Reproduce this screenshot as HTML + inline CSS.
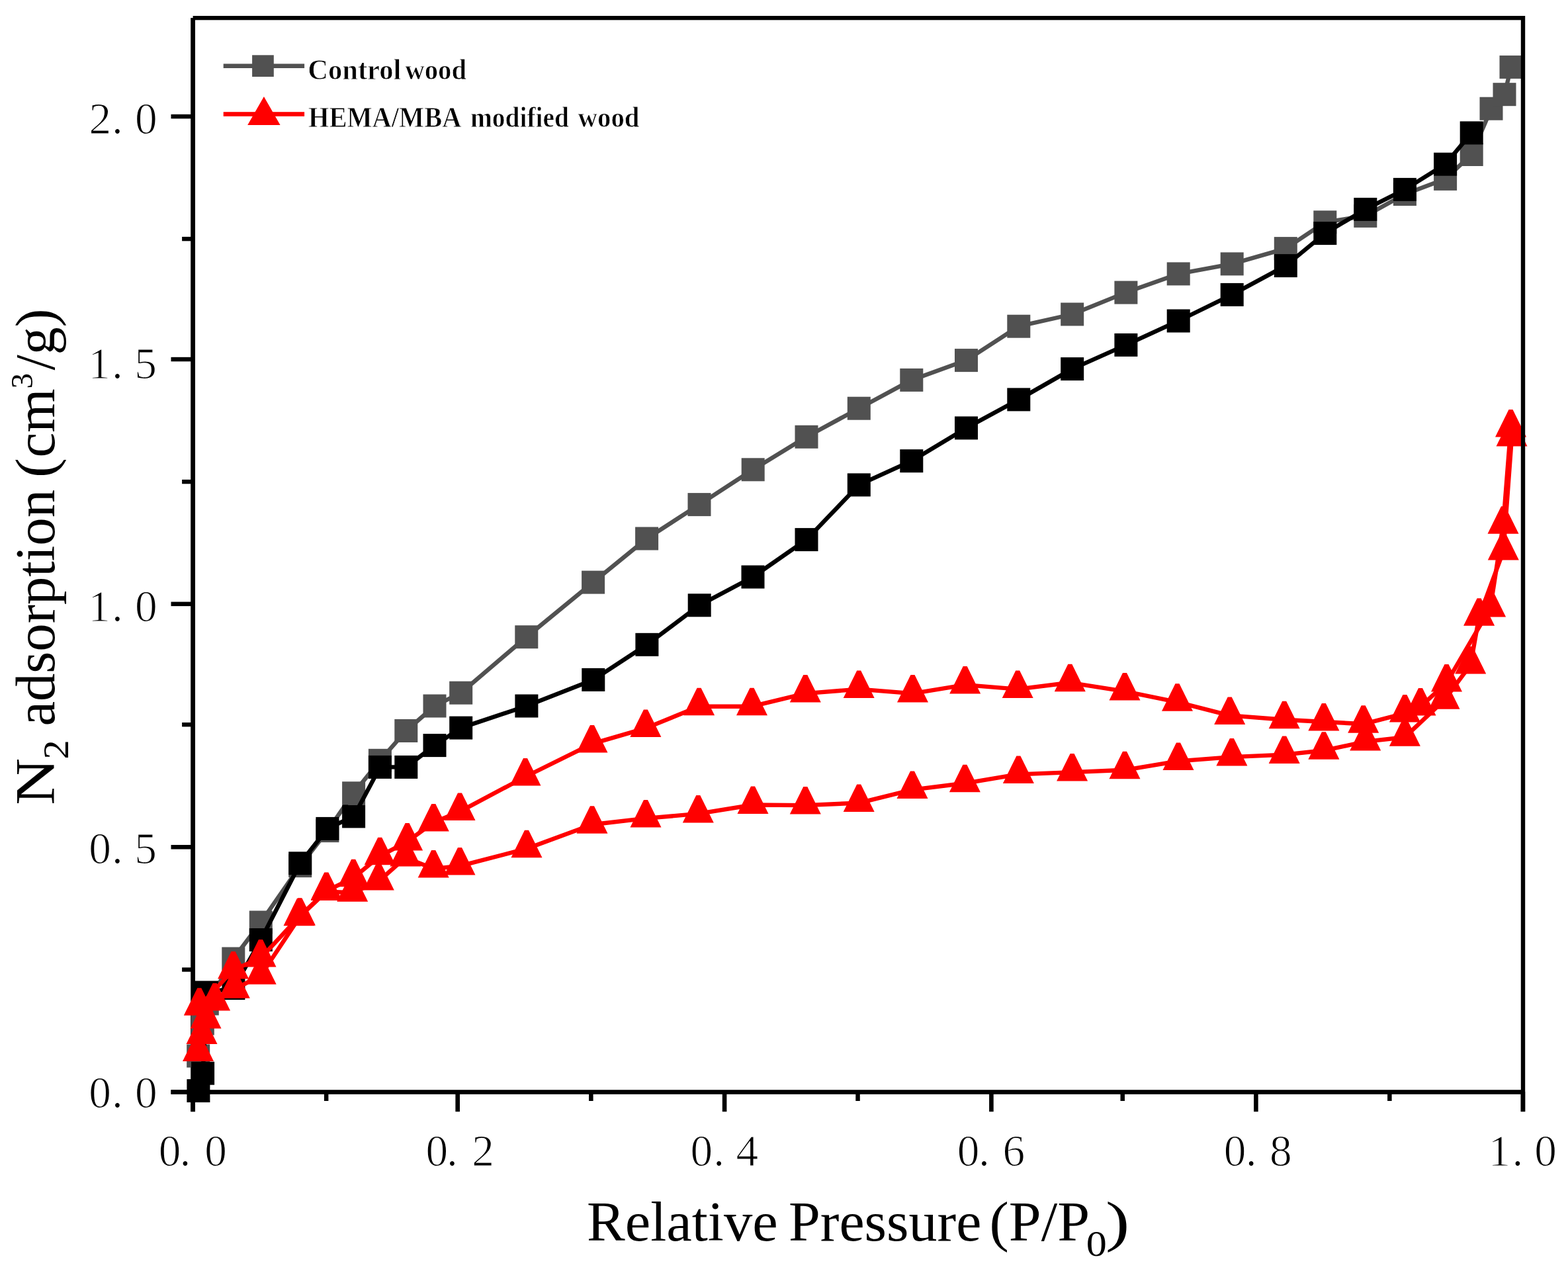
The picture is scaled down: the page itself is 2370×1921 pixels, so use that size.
<!DOCTYPE html>
<html><head><meta charset="utf-8"><title>N2 adsorption isotherms</title>
<style>html,body{margin:0;padding:0;background:#fff;width:2370px;height:1921px;overflow:hidden}svg{display:block}</style>
</head><body>
<svg width="2370" height="1921" viewBox="0 0 2370 1921">
<rect x="0" y="0" width="2370" height="1921" fill="#fff"/>
<rect x="288.2" y="27.1" width="6.8" height="1653" fill="#000"/>
<rect x="258.5" y="1647.2" width="2046.5" height="6.7" fill="#000"/>
<rect x="288.3" y="1650" width="6.6" height="30.2" fill="#000"/>
<rect x="688.4" y="1650" width="6.6" height="30.2" fill="#000"/>
<rect x="1091.8" y="1650" width="6.6" height="30.2" fill="#000"/>
<rect x="1495.1" y="1650" width="6.6" height="30.2" fill="#000"/>
<rect x="1895.1" y="1650" width="6.6" height="30.2" fill="#000"/>
<rect x="2298.6" y="1650" width="6.6" height="30.2" fill="#000"/>
<rect x="489.9" y="1650" width="6.5" height="14" fill="#000"/>
<rect x="890.1" y="1650" width="6.5" height="14" fill="#000"/>
<rect x="1293.3" y="1650" width="6.5" height="14" fill="#000"/>
<rect x="1693.5" y="1650" width="6.5" height="14" fill="#000"/>
<rect x="2097.1" y="1650" width="6.5" height="14" fill="#000"/>
<rect x="258.5" y="1647.2" width="33" height="6.5" fill="#000"/>
<rect x="258.5" y="1277" width="33" height="6.5" fill="#000"/>
<rect x="258.5" y="909.6" width="33" height="6.5" fill="#000"/>
<rect x="258.5" y="539.8" width="33" height="6.5" fill="#000"/>
<rect x="258.5" y="172.8" width="33" height="6.5" fill="#000"/>
<rect x="275.1" y="1462.3" width="16" height="6.4" fill="#000"/>
<rect x="275.1" y="1092" width="16" height="6.4" fill="#000"/>
<rect x="275.1" y="724.9" width="16" height="6.4" fill="#000"/>
<rect x="275.1" y="357.9" width="16" height="6.4" fill="#000"/>
<g>
<polyline fill="none" stroke="#515151" stroke-width="6.4" stroke-linejoin="round" points="299.7,1596 306.3,1547 313.3,1517 352.8,1449 394.3,1394 453.7,1308.6 494.9,1255.6 534.6,1198.8 574.4,1149.3 613.8,1104.5 657,1067 696.7,1047.2 795.8,962.7 896.6,880.1 977.6,814 1057,762.6 1138.2,709.8 1219,660.3 1298.3,617.2 1377.8,574.4 1460.5,544.6 1539.8,493.2 1620.7,475 1701.9,442.1 1781.2,413.9 1862.2,398.9 1943.3,375.6 2002.8,335.8 2063.8,326.4 2123.4,293.5 2184.6,270.4 2224.2,233.5 2254,164.2 2274,142.7 2284,101.4"/>
<rect x="282.2" y="1578.5" width="35" height="35" fill="#515151"/>
<rect x="288.8" y="1529.5" width="35" height="35" fill="#515151"/>
<rect x="295.8" y="1499.5" width="35" height="35" fill="#515151"/>
<rect x="335.3" y="1431.5" width="35" height="35" fill="#515151"/>
<rect x="376.8" y="1376.5" width="35" height="35" fill="#515151"/>
<rect x="436.2" y="1291.1" width="35" height="35" fill="#515151"/>
<rect x="477.4" y="1238.1" width="35" height="35" fill="#515151"/>
<rect x="517.1" y="1181.3" width="35" height="35" fill="#515151"/>
<rect x="556.9" y="1131.8" width="35" height="35" fill="#515151"/>
<rect x="596.3" y="1087" width="35" height="35" fill="#515151"/>
<rect x="639.5" y="1049.5" width="35" height="35" fill="#515151"/>
<rect x="679.2" y="1029.7" width="35" height="35" fill="#515151"/>
<rect x="778.3" y="945.2" width="35" height="35" fill="#515151"/>
<rect x="879.1" y="862.6" width="35" height="35" fill="#515151"/>
<rect x="960.1" y="796.5" width="35" height="35" fill="#515151"/>
<rect x="1039.5" y="745.1" width="35" height="35" fill="#515151"/>
<rect x="1120.7" y="692.3" width="35" height="35" fill="#515151"/>
<rect x="1201.5" y="642.8" width="35" height="35" fill="#515151"/>
<rect x="1280.8" y="599.7" width="35" height="35" fill="#515151"/>
<rect x="1360.3" y="556.9" width="35" height="35" fill="#515151"/>
<rect x="1443" y="527.1" width="35" height="35" fill="#515151"/>
<rect x="1522.3" y="475.7" width="35" height="35" fill="#515151"/>
<rect x="1603.2" y="457.5" width="35" height="35" fill="#515151"/>
<rect x="1684.4" y="424.6" width="35" height="35" fill="#515151"/>
<rect x="1763.7" y="396.4" width="35" height="35" fill="#515151"/>
<rect x="1844.7" y="381.4" width="35" height="35" fill="#515151"/>
<rect x="1925.8" y="358.1" width="35" height="35" fill="#515151"/>
<rect x="1985.3" y="318.3" width="35" height="35" fill="#515151"/>
<rect x="2046.3" y="308.9" width="35" height="35" fill="#515151"/>
<rect x="2105.9" y="276" width="35" height="35" fill="#515151"/>
<rect x="2167.1" y="252.9" width="35" height="35" fill="#515151"/>
<rect x="2206.7" y="216" width="35" height="35" fill="#515151"/>
<rect x="2236.5" y="146.7" width="35" height="35" fill="#515151"/>
<rect x="2256.5" y="125.2" width="35" height="35" fill="#515151"/>
<rect x="2266.5" y="83.9" width="35" height="35" fill="#515151"/>
<polyline fill="none" stroke="#000000" stroke-width="6.4" stroke-linejoin="round" points="299.9,1648.6 306.6,1622.2 312.5,1500 352.9,1493.6 394.3,1420.5 453.7,1304.8 494.9,1252.4 534.6,1233.9 574.4,1159.4 613.8,1159.4 657,1126.6 696.7,1100.1 795.9,1067 896.8,1027.4 977.9,974.3 1057.2,914.8 1138,872 1219,815.6 1298.3,732.9 1377.8,696.7 1460.5,646.9 1539.8,603.9 1620.7,557.6 1701.9,521.4 1781.2,485 1862.2,445.4 1943.3,401.6 2002.8,352.6 2063.8,316.4 2123.4,286.4 2184.6,248.2 2224.2,200.9"/>
<rect x="282.4" y="1631.1" width="35" height="35" fill="#000000"/>
<rect x="289.1" y="1604.7" width="35" height="35" fill="#000000"/>
<rect x="295" y="1482.5" width="35" height="35" fill="#000000"/>
<rect x="335.4" y="1476.1" width="35" height="35" fill="#000000"/>
<rect x="376.8" y="1403" width="35" height="35" fill="#000000"/>
<rect x="436.2" y="1287.3" width="35" height="35" fill="#000000"/>
<rect x="477.4" y="1234.9" width="35" height="35" fill="#000000"/>
<rect x="517.1" y="1216.4" width="35" height="35" fill="#000000"/>
<rect x="556.9" y="1141.9" width="35" height="35" fill="#000000"/>
<rect x="596.3" y="1141.9" width="35" height="35" fill="#000000"/>
<rect x="639.5" y="1109.1" width="35" height="35" fill="#000000"/>
<rect x="679.2" y="1082.6" width="35" height="35" fill="#000000"/>
<rect x="778.4" y="1049.5" width="35" height="35" fill="#000000"/>
<rect x="879.3" y="1009.9" width="35" height="35" fill="#000000"/>
<rect x="960.4" y="956.8" width="35" height="35" fill="#000000"/>
<rect x="1039.7" y="897.3" width="35" height="35" fill="#000000"/>
<rect x="1120.5" y="854.5" width="35" height="35" fill="#000000"/>
<rect x="1201.5" y="798.1" width="35" height="35" fill="#000000"/>
<rect x="1280.8" y="715.4" width="35" height="35" fill="#000000"/>
<rect x="1360.3" y="679.2" width="35" height="35" fill="#000000"/>
<rect x="1443" y="629.4" width="35" height="35" fill="#000000"/>
<rect x="1522.3" y="586.4" width="35" height="35" fill="#000000"/>
<rect x="1603.2" y="540.1" width="35" height="35" fill="#000000"/>
<rect x="1684.4" y="503.9" width="35" height="35" fill="#000000"/>
<rect x="1763.7" y="467.5" width="35" height="35" fill="#000000"/>
<rect x="1844.7" y="427.9" width="35" height="35" fill="#000000"/>
<rect x="1925.8" y="384.1" width="35" height="35" fill="#000000"/>
<rect x="1985.3" y="335.1" width="35" height="35" fill="#000000"/>
<rect x="2046.3" y="298.9" width="35" height="35" fill="#000000"/>
<rect x="2105.9" y="268.9" width="35" height="35" fill="#000000"/>
<rect x="2167.1" y="230.7" width="35" height="35" fill="#000000"/>
<rect x="2206.7" y="183.4" width="35" height="35" fill="#000000"/>
<polyline fill="none" stroke="#ff0000" stroke-width="6.4" stroke-linejoin="round" points="299.5,1590.5 305,1564.5 311,1541.1 324.6,1514.1 354.3,1495.3 394.2,1474.2 453.4,1385.3 493.3,1347.5 532.7,1349.2 572.3,1332 612.8,1296.1 655.2,1313 695,1308.9 796,1282.7 895,1246.3 976,1236.9 1055.3,1229.9 1138,1216.5 1217.3,1217.1 1298.2,1213.6 1379,1193.6 1458.4,1183.8 1539.4,1170.4 1620.6,1167.1 1700,1163.8 1781,1150.4 1861.9,1144.1 1941.2,1140.6 2000.9,1134.3 2063.7,1120.9 2123.4,1114.2 2183,1058.2 2222.7,1004.9 2235.6,932.3 2272.3,833.1 2285,661.1"/>
<polygon fill="#ff0000" points="296.5,1562.5 302.5,1562.5 323,1604 276,1604"/>
<polygon fill="#ff0000" points="302,1536.5 308,1536.5 328.5,1578 281.5,1578"/>
<polygon fill="#ff0000" points="308,1513.1 314,1513.1 334.5,1554.6 287.5,1554.6"/>
<polygon fill="#ff0000" points="321.6,1486.1 327.6,1486.1 348.1,1527.6 301.1,1527.6"/>
<polygon fill="#ff0000" points="351.3,1467.3 357.3,1467.3 377.8,1508.8 330.8,1508.8"/>
<polygon fill="#ff0000" points="391.2,1446.2 397.2,1446.2 417.7,1487.7 370.7,1487.7"/>
<polygon fill="#ff0000" points="450.4,1357.3 456.4,1357.3 476.9,1398.8 429.9,1398.8"/>
<polygon fill="#ff0000" points="490.3,1319.5 496.3,1319.5 516.8,1361 469.8,1361"/>
<polygon fill="#ff0000" points="529.7,1321.2 535.7,1321.2 556.2,1362.7 509.2,1362.7"/>
<polygon fill="#ff0000" points="569.3,1304 575.3,1304 595.8,1345.5 548.8,1345.5"/>
<polygon fill="#ff0000" points="609.8,1268.1 615.8,1268.1 636.3,1309.6 589.3,1309.6"/>
<polygon fill="#ff0000" points="652.2,1285 658.2,1285 678.7,1326.5 631.7,1326.5"/>
<polygon fill="#ff0000" points="692,1280.9 698,1280.9 718.5,1322.4 671.5,1322.4"/>
<polygon fill="#ff0000" points="793,1254.7 799,1254.7 819.5,1296.2 772.5,1296.2"/>
<polygon fill="#ff0000" points="892,1218.3 898,1218.3 918.5,1259.8 871.5,1259.8"/>
<polygon fill="#ff0000" points="973,1208.9 979,1208.9 999.5,1250.4 952.5,1250.4"/>
<polygon fill="#ff0000" points="1052.3,1201.9 1058.3,1201.9 1078.8,1243.4 1031.8,1243.4"/>
<polygon fill="#ff0000" points="1135,1188.5 1141,1188.5 1161.5,1230 1114.5,1230"/>
<polygon fill="#ff0000" points="1214.3,1189.1 1220.3,1189.1 1240.8,1230.6 1193.8,1230.6"/>
<polygon fill="#ff0000" points="1295.2,1185.6 1301.2,1185.6 1321.7,1227.1 1274.7,1227.1"/>
<polygon fill="#ff0000" points="1376,1165.6 1382,1165.6 1402.5,1207.1 1355.5,1207.1"/>
<polygon fill="#ff0000" points="1455.4,1155.8 1461.4,1155.8 1481.9,1197.3 1434.9,1197.3"/>
<polygon fill="#ff0000" points="1536.4,1142.4 1542.4,1142.4 1562.9,1183.9 1515.9,1183.9"/>
<polygon fill="#ff0000" points="1617.6,1139.1 1623.6,1139.1 1644.1,1180.6 1597.1,1180.6"/>
<polygon fill="#ff0000" points="1697,1135.8 1703,1135.8 1723.5,1177.3 1676.5,1177.3"/>
<polygon fill="#ff0000" points="1778,1122.4 1784,1122.4 1804.5,1163.9 1757.5,1163.9"/>
<polygon fill="#ff0000" points="1858.9,1116.1 1864.9,1116.1 1885.4,1157.6 1838.4,1157.6"/>
<polygon fill="#ff0000" points="1938.2,1112.6 1944.2,1112.6 1964.7,1154.1 1917.7,1154.1"/>
<polygon fill="#ff0000" points="1997.9,1106.3 2003.9,1106.3 2024.4,1147.8 1977.4,1147.8"/>
<polygon fill="#ff0000" points="2060.7,1092.9 2066.7,1092.9 2087.2,1134.4 2040.2,1134.4"/>
<polygon fill="#ff0000" points="2120.4,1086.2 2126.4,1086.2 2146.9,1127.7 2099.9,1127.7"/>
<polygon fill="#ff0000" points="2180,1030.2 2186,1030.2 2206.5,1071.7 2159.5,1071.7"/>
<polygon fill="#ff0000" points="2219.7,976.9 2225.7,976.9 2246.2,1018.4 2199.2,1018.4"/>
<polygon fill="#ff0000" points="2232.6,904.3 2238.6,904.3 2259.1,945.8 2212.1,945.8"/>
<polygon fill="#ff0000" points="2269.3,805.1 2275.3,805.1 2295.8,846.6 2248.8,846.6"/>
<polygon fill="#ff0000" points="2282,633.1 2288,633.1 2308.5,674.6 2261.5,674.6"/>
<polyline fill="none" stroke="#ff0000" stroke-width="6.4" stroke-linejoin="round" points="2283.5,647 2272,793.3 2252.6,918.9 2186.5,1031.9 2147,1068.1 2123.4,1078.1 2060.7,1094.3 2000.9,1091 1941.2,1087.7 1858.7,1081.4 1779.5,1061.2 1700,1044.9 1617.3,1031.8 1538.2,1041.6 1458.7,1035.1 1379.5,1048.1 1298.2,1041.6 1217.3,1048.1 1136.5,1067.7 1056.6,1067.7 975.9,1100.6 895,1124.1 794,1174 695,1226.6 655.3,1242.9 615.6,1272.1 574.2,1293.8 534.2,1326.7 493.3,1346.6 452,1385.7 394,1448.1 352.6,1465.9 301.3,1521.3"/>
<polygon fill="#ff0000" points="2280.5,619 2286.5,619 2307,660.5 2260,660.5"/>
<polygon fill="#ff0000" points="2269,765.3 2275,765.3 2295.5,806.8 2248.5,806.8"/>
<polygon fill="#ff0000" points="2249.6,890.9 2255.6,890.9 2276.1,932.4 2229.1,932.4"/>
<polygon fill="#ff0000" points="2183.5,1003.9 2189.5,1003.9 2210,1045.4 2163,1045.4"/>
<polygon fill="#ff0000" points="2144,1040.1 2150,1040.1 2170.5,1081.6 2123.5,1081.6"/>
<polygon fill="#ff0000" points="2120.4,1050.1 2126.4,1050.1 2146.9,1091.6 2099.9,1091.6"/>
<polygon fill="#ff0000" points="2057.7,1066.3 2063.7,1066.3 2084.2,1107.8 2037.2,1107.8"/>
<polygon fill="#ff0000" points="1997.9,1063 2003.9,1063 2024.4,1104.5 1977.4,1104.5"/>
<polygon fill="#ff0000" points="1938.2,1059.7 1944.2,1059.7 1964.7,1101.2 1917.7,1101.2"/>
<polygon fill="#ff0000" points="1855.7,1053.4 1861.7,1053.4 1882.2,1094.9 1835.2,1094.9"/>
<polygon fill="#ff0000" points="1776.5,1033.2 1782.5,1033.2 1803,1074.7 1756,1074.7"/>
<polygon fill="#ff0000" points="1697,1016.9 1703,1016.9 1723.5,1058.4 1676.5,1058.4"/>
<polygon fill="#ff0000" points="1614.3,1003.8 1620.3,1003.8 1640.8,1045.3 1593.8,1045.3"/>
<polygon fill="#ff0000" points="1535.2,1013.6 1541.2,1013.6 1561.7,1055.1 1514.7,1055.1"/>
<polygon fill="#ff0000" points="1455.7,1007.1 1461.7,1007.1 1482.2,1048.6 1435.2,1048.6"/>
<polygon fill="#ff0000" points="1376.5,1020.1 1382.5,1020.1 1403,1061.6 1356,1061.6"/>
<polygon fill="#ff0000" points="1295.2,1013.6 1301.2,1013.6 1321.7,1055.1 1274.7,1055.1"/>
<polygon fill="#ff0000" points="1214.3,1020.1 1220.3,1020.1 1240.8,1061.6 1193.8,1061.6"/>
<polygon fill="#ff0000" points="1133.5,1039.7 1139.5,1039.7 1160,1081.2 1113,1081.2"/>
<polygon fill="#ff0000" points="1053.6,1039.7 1059.6,1039.7 1080.1,1081.2 1033.1,1081.2"/>
<polygon fill="#ff0000" points="972.9,1072.6 978.9,1072.6 999.4,1114.1 952.4,1114.1"/>
<polygon fill="#ff0000" points="892,1096.1 898,1096.1 918.5,1137.6 871.5,1137.6"/>
<polygon fill="#ff0000" points="791,1146 797,1146 817.5,1187.5 770.5,1187.5"/>
<polygon fill="#ff0000" points="692,1198.6 698,1198.6 718.5,1240.1 671.5,1240.1"/>
<polygon fill="#ff0000" points="652.3,1214.9 658.3,1214.9 678.8,1256.4 631.8,1256.4"/>
<polygon fill="#ff0000" points="612.6,1244.1 618.6,1244.1 639.1,1285.6 592.1,1285.6"/>
<polygon fill="#ff0000" points="571.2,1265.8 577.2,1265.8 597.7,1307.3 550.7,1307.3"/>
<polygon fill="#ff0000" points="531.2,1298.7 537.2,1298.7 557.7,1340.2 510.7,1340.2"/>
<polygon fill="#ff0000" points="490.3,1318.6 496.3,1318.6 516.8,1360.1 469.8,1360.1"/>
<polygon fill="#ff0000" points="449,1357.7 455,1357.7 475.5,1399.2 428.5,1399.2"/>
<polygon fill="#ff0000" points="391,1420.1 397,1420.1 417.5,1461.6 370.5,1461.6"/>
<polygon fill="#ff0000" points="349.6,1437.9 355.6,1437.9 376.1,1479.4 329.1,1479.4"/>
<polygon fill="#ff0000" points="298.3,1493.3 304.3,1493.3 324.8,1534.8 277.8,1534.8"/>
</g>
<rect x="291.6" y="24" width="2013.4" height="6.3" fill="#000"/>
<rect x="2298.8" y="24" width="6.4" height="1656" fill="#000"/>
<text font-family="Liberation Serif, serif" font-size="67.4" fill="#000" stroke="#fff" stroke-width="1.2" x="134.2 169 204" y="1674.4">0.0</text>
<text font-family="Liberation Serif, serif" font-size="67.4" fill="#000" stroke="#fff" stroke-width="1.2" x="134.2 169 203.3" y="1305.4">0.5</text>
<text font-family="Liberation Serif, serif" font-size="67.4" fill="#000" stroke="#fff" stroke-width="1.2" x="133.2 169 204" y="938.5">1.0</text>
<text font-family="Liberation Serif, serif" font-size="67.4" fill="#000" stroke="#fff" stroke-width="1.2" x="133.2 169 203.3" y="572.4">1.5</text>
<text font-family="Liberation Serif, serif" font-size="67.4" fill="#000" stroke="#fff" stroke-width="1.2" x="134.5 169 204" y="201.6">2.0</text>
<text font-family="Liberation Serif, serif" font-size="67.4" fill="#000" stroke="#fff" stroke-width="1.2" x="239.7 271.4 309.2" y="1762.4">0.0</text>
<text font-family="Liberation Serif, serif" font-size="67.4" fill="#000" stroke="#fff" stroke-width="1.2" x="643.4 674.9 713.2" y="1762.4">0.2</text>
<text font-family="Liberation Serif, serif" font-size="67.4" fill="#000" stroke="#fff" stroke-width="1.2" x="1043.4 1078.3 1112.6" y="1762.4">0.4</text>
<text font-family="Liberation Serif, serif" font-size="67.4" fill="#000" stroke="#fff" stroke-width="1.2" x="1446.7 1479.1 1515.6" y="1762.4">0.6</text>
<text font-family="Liberation Serif, serif" font-size="67.4" fill="#000" stroke="#fff" stroke-width="1.2" x="1849.8 1882.7 1919" y="1762.4">0.8</text>
<text font-family="Liberation Serif, serif" font-size="67.4" fill="#000" stroke="#fff" stroke-width="1.2" x="2249.5 2285.5 2319.2" y="1762.4">1.0</text>
<text font-family="Liberation Serif, serif" font-size="85" fill="#000" x="887.1" y="1875.3" textLength="288.6" lengthAdjust="spacingAndGlyphs">Relative</text>
<text font-family="Liberation Serif, serif" font-size="85" fill="#000" x="1192" y="1875.3" textLength="291.3" lengthAdjust="spacingAndGlyphs">Pressure</text>
<text font-family="Liberation Serif, serif" font-size="85" fill="#000" x="1495.6" y="1875.3" textLength="151.5" lengthAdjust="spacingAndGlyphs">(P/P</text>
<text font-family="Liberation Serif, serif" font-size="54" fill="#000" x="1641.7" y="1898.1" textLength="31.1" lengthAdjust="spacingAndGlyphs">0</text>
<text font-family="Liberation Serif, serif" font-size="85" fill="#000" x="1670.9" y="1875.3" textLength="36.3" lengthAdjust="spacingAndGlyphs">)</text>
<g transform="translate(81.6,1214) rotate(-90)"><text font-family="Liberation Serif, serif" font-size="85" fill="#000" x="-2.7" y="0" textLength="71" lengthAdjust="spacingAndGlyphs">N</text><text font-family="Liberation Serif, serif" font-size="55" fill="#000" x="66.5" y="21.2" textLength="29.1" lengthAdjust="spacingAndGlyphs">2</text><text font-family="Liberation Serif, serif" font-size="85" fill="#000" x="116.4" y="0" textLength="357.7" lengthAdjust="spacingAndGlyphs">adsorption</text><text font-family="Liberation Serif, serif" font-size="85" fill="#000" x="491.9" y="0" textLength="30" lengthAdjust="spacingAndGlyphs">(</text><text font-family="Liberation Serif, serif" font-size="85" fill="#000" x="522.4" y="0" textLength="104" lengthAdjust="spacingAndGlyphs">cm</text><text font-family="Liberation Serif, serif" font-size="47" fill="#000" x="626.4" y="-32.7" textLength="23.5" lengthAdjust="spacingAndGlyphs">3</text><text font-family="Liberation Serif, serif" font-size="85" fill="#000" x="654.5" y="0" textLength="93" lengthAdjust="spacingAndGlyphs">/g)</text></g>
<rect x="337.7" y="96.4" width="122.4" height="6.6" fill="#515151"/>
<rect x="381.1" y="83.3" width="32.7" height="32.7" fill="#515151"/>
<rect x="337.7" y="169.2" width="122.4" height="6.6" fill="#ff0000"/>
<polygon fill="#ff0000" points="398.9,145.9 374.2,188.9 423.6,188.9"/>
<text font-family="Liberation Serif, serif" font-weight="bold" font-size="44" fill="#000" stroke="#fff" stroke-width="0.8" x="465.2" y="119.5" textLength="141.2" lengthAdjust="spacingAndGlyphs">Control</text>
<text font-family="Liberation Serif, serif" font-weight="bold" font-size="44" fill="#000" stroke="#fff" stroke-width="0.8" x="612.2" y="119.5" textLength="92.9" lengthAdjust="spacingAndGlyphs">wood</text>
<text font-family="Liberation Serif, serif" font-weight="bold" font-size="44" fill="#000" stroke="#fff" stroke-width="0.8" x="466" y="192.3" textLength="231.4" lengthAdjust="spacingAndGlyphs">HEMA/MBA</text>
<text font-family="Liberation Serif, serif" font-weight="bold" font-size="44" fill="#000" stroke="#fff" stroke-width="0.8" x="710.9" y="192.3" textLength="149.1" lengthAdjust="spacingAndGlyphs">modified</text>
<text font-family="Liberation Serif, serif" font-weight="bold" font-size="44" fill="#000" stroke="#fff" stroke-width="0.8" x="873.5" y="192.3" textLength="93" lengthAdjust="spacingAndGlyphs">wood</text>
</svg>
</body></html>
